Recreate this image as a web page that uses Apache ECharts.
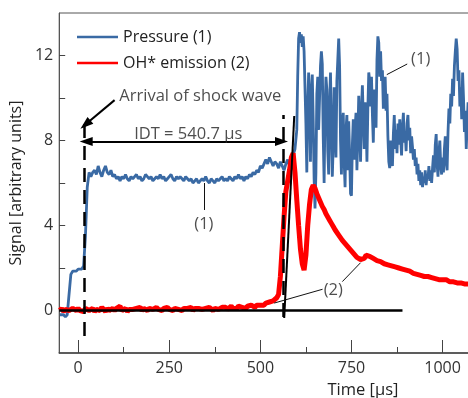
<!DOCTYPE html>
<html><head><meta charset="utf-8">
<script src="https://cdn.jsdelivr.net/npm/echarts@6/dist/echarts.min.js"></script>
<style>html,body{margin:0;padding:0;overflow:hidden;background:#fff;width:468px;height:398px}#c{width:520px;height:398px}</style>
</head><body><div id="c"></div><script>
const FONT = '"Open Sans", sans-serif';
const xTickLabels = [0, 250, 500, 750, 1000];
const xMinorTicks = [125, 375, 625, 875];
const yTickLabels = [0, 4, 8, 12];
const yTicks = [0, 2, 4, 6, 8, 10, 12];

// Pressure (1): t = -50 .. 595, step 5
const pressureStart = -50, pressureStep = 5;
const pressureA = [
  -0.2,-0.25,-0.2,-0.3,-0.2,-0.25,1.7,1.85,1.9,1.85,
  1.95,2.0,1.95,2.1,3.5,5.8,6.5,6.3,6.5,6.6,
  6.4,6.8,6.5,6.3,6.6,6.8,6.5,6.4,6.6,6.3,
  6.4,6.2,6.3,6.1,6.3,6.2,6.4,6.2,6.1,6.3,
  6.2,6.3,6.4,6.2,6.3,6.1,6.2,6.4,6.3,6.2,
  6.3,6.1,6.2,6.3,6.2,6.4,6.2,6.3,6.1,6.2,
  6.3,6.4,6.2,6.1,6.3,6.2,6.3,6.2,6.1,6.3,
  6.2,6.1,6.2,6.0,6.1,6.2,6.0,6.1,6.2,6.1,
  6.3,6.1,6.0,6.2,6.1,6.0,6.2,6.1,6.2,6.3,
  6.1,6.2,6.1,6.3,6.2,6.1,6.3,6.2,6.4,6.2,
  6.3,6.1,6.3,6.2,6.4,6.3,6.5,6.4,6.6,6.5,
  6.8,6.7,6.9,7.1,6.9,7.2,7.0,6.8,7.0,6.9,
  6.7,7.0,6.8,6.6,6.9,7.1,6.8,7.0,7.3,7.6
];
// Pressure (1): t = 600 .. , step 2.5
const pressureBStart = 600, pressureBStep = 2.5;
const pressureB = [
  8.5,11.0,12.8,13.1,12.6,13.0,12.4,12.9,12.2,10.5,8.8,6.5,9.5,11.2,9.8,7.0,10.2,11.1,9.0,6.2,
  4.8,6.5,10.2,11.0,8.5,10.0,11.5,12.2,11.6,8.2,6.0,9.4,11.0,10.4,7.5,6.4,9.8,11.2,8.6,6.3,
  7.8,10.5,9.0,7.2,10.8,11.8,12.8,11.5,8.0,6.4,8.8,9.3,7.0,5.8,8.5,9.2,6.6,8.9,7.3,5.5,
  5.4,7.8,9.0,7.1,8.6,9.3,6.6,8.2,10.1,8.5,7.0,9.5,10.6,9.0,7.6,9.8,9.0,7.0,9.5,11.2,
  10.8,9.6,11.0,9.2,7.9,10.4,9.8,8.6,11.8,12.9,12.6,11.0,12.2,10.8,11.3,9.5,10.6,11.0,9.4,10.2,
  8.2,7.0,6.7,8.0,7.2,6.8,8.3,9.2,7.6,8.5,7.4,8.8,7.8,9.0,8.1,7.3,8.6,9.3,7.9,8.4,
  7.5,8.8,9.2,8.0,8.6,7.4,8.2,7.7,7.1,7.6,6.8,7.2,6.4,6.9,6.1,6.6,5.9,6.5,5.8,6.3,
  6.0,6.6,5.9,6.4,6.2,6.8,6.1,6.6,6.0,6.7,7.3,6.5,7.8,8.3,6.9,6.3,7.4,8.0,6.8,6.4,
  7.2,6.5,7.6,8.2,7.0,6.6,8.4,9.5,8.8,10.2,9.6,10.9,10.1,11.5,12.2,12.8,12.3,10.8,11.3,9.6,
  10.5,9.0,11.2,10.0,8.4,9.4,7.6,8.8,9.8,8.2,9.0,8.5,9.6,8.8,9.2
];
// OH* emission (2): t = -50 .. 1100, step 5
const ohStart = -50, ohStep = 5;
const ohEmission = [
  0.0,0.1,-0.05,0.05,0.1,0.0,-0.05,0.1,0.05,0.0,
  0.1,0.0,0.05,-0.05,0.1,0.15,0.0,0.05,0.1,-0.05,
  0.05,0.1,0.0,0.15,0.05,-0.05,0.1,0.0,0.05,0.1,
  0.0,0.1,0.05,0.2,0.0,0.05,0.1,-0.05,0.05,0.1,
  0.05,0.0,0.1,0.05,0.15,0.0,0.1,0.05,0.0,0.1,
  0.1,0.05,0.0,0.15,0.05,0.1,0.0,0.1,0.05,0.15,
  0.05,0.1,0.0,0.1,0.15,0.05,0.1,0.0,0.1,0.05,
  0.1,0.05,0.15,0.0,0.1,0.05,0.1,0.15,0.05,0.1,
  0.1,0.05,0.15,0.1,0.0,0.1,0.15,0.05,0.1,0.15,
  0.1,0.15,0.05,0.1,0.2,0.1,0.15,0.1,0.2,0.15,
  0.15,0.2,0.1,0.2,0.15,0.25,0.2,0.15,0.25,0.2,
  0.25,0.3,0.25,0.35,0.3,0.4,0.35,0.45,0.5,0.6,
  0.75,1.6,3.0,4.4,5.6,6.1,6.6,7.2,7.4,6.5,
  5.2,4.0,2.9,2.2,1.9,2.6,4.0,5.0,5.7,5.9,
  5.75,5.5,5.3,5.1,4.9,4.75,4.55,4.4,4.25,4.1,
  3.95,3.8,3.75,3.55,3.5,3.3,3.3,3.1,3.05,2.9,
  2.85,2.7,2.65,2.5,2.5,2.4,2.45,2.45,2.6,2.65,
  2.55,2.55,2.45,2.45,2.35,2.35,2.3,2.3,2.2,2.25,
  2.15,2.15,2.1,2.1,2.05,2.0,2.0,1.95,1.95,1.9,
  1.9,1.85,1.85,1.8,1.75,1.75,1.7,1.7,1.65,1.65,
  1.6,1.6,1.6,1.55,1.55,1.5,1.5,1.5,1.45,1.45,
  1.45,1.4,1.45,1.4,1.35,1.4,1.35,1.35,1.3,1.3,
  1.3,1.3,1.25,1.25,1.25,1.2,1.2,1.2,1.2,1.15,
  1.15
];

// annotation anchors (data units)
const zeroLine = [[-52, 0], [890, 0]];
const dashedLines = [[[18, -1.2], [18, 8.9]], [[562, -0.3], [562, 9.2]]];
const tangentLine = [[565.5, -0.35], [593, 9.15]];
const shockArrow = [[100, 9.9], [20, 8.75]];
const idtArrow = [[22, 7.95], [558, 7.95]];
const leaderLines = [
  [[345, 6.0], [345, 4.73]],
  [[903, 11.6], [847, 11.1]],
  [[670.7, 1.0], [538, 0.35]],
  [[725, 1.36], [775, 2.25]]
];
const textLabels = [
  { name: 'Arrival of shock wave', value: [113, 10.08], pos: 'right' },
  { name: 'IDT = 540.7 µs', value: [302, 8.3], pos: 'inside' },
  { name: '(1)', value: [345, 4.05], pos: 'inside' },
  { name: '(1)', value: [940, 11.8], pos: 'inside' },
  { name: '(2)', value: [700, 0.97], pos: 'inside' }
];

const pressure = pressureA.map((v, i) => [pressureStart + pressureStep * i, v])
  .concat(pressureB.map((v, i) => [pressureBStart + pressureBStep * i, v]));
const oh = ohEmission.map((v, i) => [ohStart + ohStep * i, v]);

const seg = (p, style, sym) => [
  { coord: p[0], symbol: sym ? sym[0] : 'none', lineStyle: style },
  { coord: p[1], symbol: sym ? sym[1] : 'none' }
];
const markLines = [];
markLines.push(seg(zeroLine, { color: '#000', width: 2.5, type: 'solid' }));
dashedLines.forEach(d => markLines.push(seg(d, { color: '#000', width: 2.5, type: [14, 8] })));
markLines.push(seg(tangentLine, { color: '#000', width: 2, type: 'solid' }));
markLines.push(seg(shockArrow, { color: '#000', width: 2, type: 'solid' }, ['none', 'triangle']));
markLines.push(seg(idtArrow, { color: '#000', width: 2, type: 'solid' }, ['triangle', 'triangle']));
leaderLines.forEach(d => markLines.push(seg(d, { color: '#111', width: 1, type: 'solid' })));

const plain = v => String(v);
const chart = echarts.init(document.getElementById('c'), null, { renderer: 'canvas' });
chart.setOption({
  animation: false,
  backgroundColor: '#fff',
  grid: { left: 58, top: 13, width: 421, height: 340, show: true, borderColor: '#555', borderWidth: 1, backgroundColor: 'transparent' },
  legend: {
    data: ['Pressure (1)', 'OH* emission (2)'],
    orient: 'vertical', left: 72, top: 24,
    icon: 'rect', itemWidth: 41, itemHeight: 2.5, itemGap: 10,
    textStyle: { fontFamily: FONT, fontSize: 16, color: '#222', lineHeight: 16 }
  },
  xAxis: [{
    type: 'value', min: -52, max: 1100,
    axisLine: { show: true, onZero: false, lineStyle: { color: '#444', width: 1.5 } },
    axisTick: { show: true, inside: true, length: 13, customValues: xTickLabels, lineStyle: { color: '#444', width: 1 } },
    axisLabel: { customValues: xTickLabels, formatter: plain, fontFamily: FONT, fontSize: 16, color: '#333', margin: 7 },
    splitLine: { show: false }
  }, {
    type: 'value', min: -52, max: 1100, position: 'bottom', offset: 0,
    axisLine: { show: false, onZero: false },
    axisTick: { show: true, inside: true, length: 6, customValues: xMinorTicks, lineStyle: { color: '#444', width: 1 } },
    axisLabel: { show: false },
    splitLine: { show: false }
  }],
  yAxis: {
    type: 'value', min: -2, max: 14,
    name: 'Signal [arbitrary units]', nameLocation: 'middle', nameGap: 30,
    nameTextStyle: { fontFamily: FONT, fontSize: 16, color: '#222' },
    axisLine: { show: true, onZero: false, lineStyle: { color: '#555', width: 1 } },
    axisTick: { show: true, inside: true, length: 6, customValues: yTicks, lineStyle: { color: '#444', width: 1 } },
    axisLabel: { customValues: yTickLabels, formatter: plain, fontFamily: FONT, fontSize: 16, color: '#333', margin: 6 },
    splitLine: { show: false }
  },
  graphic: [{
    type: 'text', x: 363, y: 390,
    style: { text: 'Time [µs]', textAlign: 'center', textVerticalAlign: 'middle', font: '16.5px ' + FONT, fill: '#222' }
  }],
  series: [
    {
      name: 'Pressure (1)', type: 'line', data: pressure, showSymbol: false, symbol: 'none',
      lineStyle: { color: '#3a6aa4', width: 2.8 }, itemStyle: { color: '#3a6aa4' }, z: 2
    },
    {
      name: 'OH* emission (2)', type: 'line', data: oh, showSymbol: false, symbol: 'none',
      lineStyle: { color: '#ff0000', width: 5 }, itemStyle: { color: '#ff0000' }, z: 3
    },
    {
      name: 'annot', type: 'line', data: [], z: 5,
      markLine: { silent: true, animation: false, symbolSize: [9, 13], label: { show: false }, data: markLines }
    },
    {
      name: 'labels', type: 'scatter', symbolSize: 0, z: 6, silent: true,
      data: textLabels.map(t => ({
        name: t.name, value: t.value,
        label: { show: true, position: t.pos, distance: 0, formatter: '{b}', fontFamily: FONT, fontSize: 16.5, color: '#222' }
      }))
    }
  ]
});
</script></body></html>
